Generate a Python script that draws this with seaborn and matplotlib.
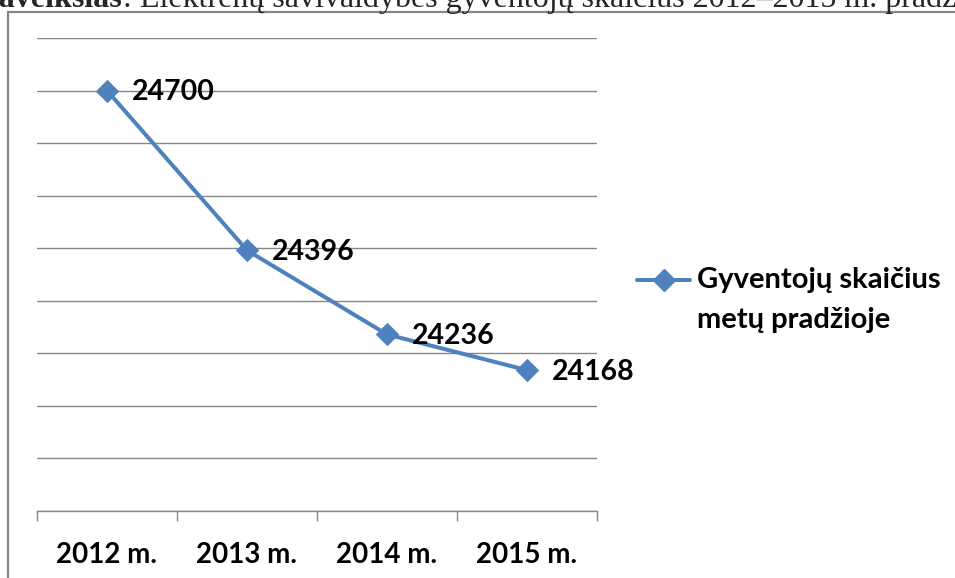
import matplotlib
matplotlib.use("Agg")
import numpy as np
import pandas as pd
import matplotlib.pyplot as plt
import seaborn as sns
from matplotlib.lines import Line2D
from matplotlib.patches import Rectangle

# ---- data ----
categories = ["2012 m.", "2013 m.", "2014 m.", "2015 m."]
values = [24700, 24396, 24236, 24168]
series_label = "Gyventojų skaičius\nmetų pradžioje"
title_bold = "paveikslas"
title_rest = ": Elektrėnų savivaldybės gyventojų skaičius 2012–2015 m. pradžioje"
y_min, y_max, y_step = 23900, 24800, 100

sns.set_theme(style="white")
plt.rcParams["font.family"] = ["Lato", "DejaVu Sans"]

W, H = 955, 578
LINE_COLOR = "#4F81BD"
GRID_COLOR = "#868686"

fig = plt.figure(figsize=(W / 100, H / 100), dpi=100)
fig.patch.set_facecolor("white")

# outer chart frame (extends beyond the cropped image)
fig.add_artist(Rectangle((8 / W, -0.2), 1.5, 1 - 12 / H + 0.2, transform=fig.transFigure,
                         fill=False, edgecolor=GRID_COLOR, linewidth=1.6, clip_on=False))

ax = fig.add_axes([37 / W, 1 - 511 / H, 560 / W, 473 / H])
ax.set_facecolor("none")

df = pd.DataFrame({"Metai": categories, "Gyventojai": values})
sns.lineplot(data=df, x="Metai", y="Gyventojai", ax=ax, color=LINE_COLOR, linewidth=2.9,
             marker="D", markersize=11.5, markeredgecolor=LINE_COLOR, sort=False, legend=False)

ax.set_xlim(-0.5, len(categories) - 0.5)
ax.set_ylim(y_min, y_max)
ax.set_yticks(np.arange(y_min, y_max + 1, y_step))
ax.set_yticklabels([])
ax.tick_params(axis="y", length=0)
ax.yaxis.grid(True, color=GRID_COLOR, linewidth=1.0)
ax.set_axisbelow(True)
for s in ["left", "right", "top"]:
    ax.spines[s].set_visible(False)
ax.spines["bottom"].set_color(GRID_COLOR)
ax.spines["bottom"].set_linewidth(1.0)

ax.set_xticks(range(len(categories)))
ax.set_xticklabels(categories, fontsize=20, fontweight="bold", color="black")
ax.set_xticks(np.arange(-0.5, len(categories), 1), minor=True)
ax.tick_params(axis="x", which="major", length=0, pad=22)
ax.tick_params(axis="x", which="minor", length=7.5, width=1.0, color=GRID_COLOR,
               direction="out", bottom=True)
ax.set_xlabel("")
ax.set_ylabel("")

for i, v in enumerate(values):
    ax.annotate(f"{v}", (i, v), xytext=(18, -1), textcoords="offset points",
                ha="left", va="center", fontsize=20.5, fontweight="bold", color="black")

# manual legend
ly = 1 - 280 / H
fig.add_artist(Line2D([637 / W, 663.5 / W, 690 / W], [ly, ly, ly], transform=fig.transFigure,
                      color=LINE_COLOR, linewidth=2.9, marker="D", markersize=11.5,
                      markevery=[1], markeredgecolor=LINE_COLOR))
for k, line in enumerate(series_label.split("\n")):
    fig.text(697 / W, 1 - (280 + 40 * k) / H, line, ha="left", va="center",
             fontsize=21, fontweight="bold", color="black")

# cropped caption at the top
t1 = fig.text(-18 / W, 1 - 7 / H, title_bold, ha="left", va="baseline",
              fontsize=23, fontweight="bold", family=["Liberation Serif", "DejaVu Serif"])
fig.canvas.draw()
bb = t1.get_window_extent(renderer=fig.canvas.get_renderer())
fig.text(bb.x1 / W, 1 - 7 / H, title_rest, ha="left", va="baseline",
         fontsize=23, family=["Liberation Serif", "DejaVu Serif"])

fig.savefig("out.png", dpi=100, facecolor="white")
